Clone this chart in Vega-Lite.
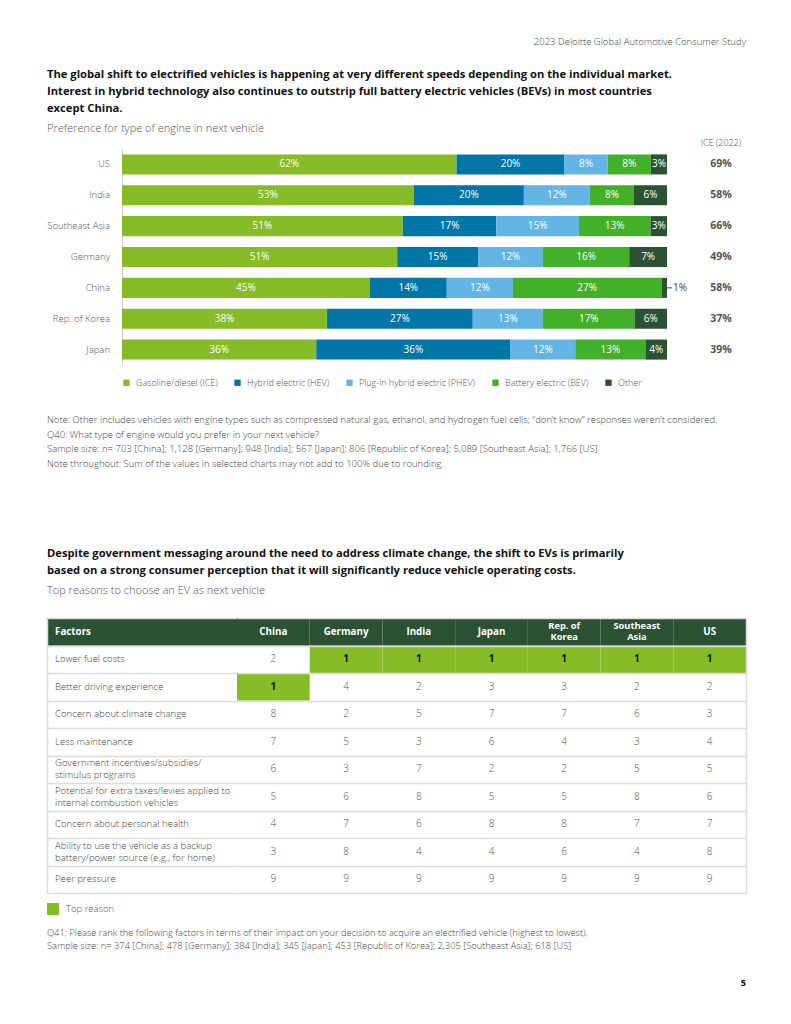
{
  "$schema": "https://vega.github.io/schema/vega-lite/v6.json",
  "padding": {"left": 47, "top": 37, "right": 10, "bottom": 10},
  "background": "white",
  "config": {
    "font": "Open Sans",
    "view": {"stroke": null},
    "title": {"font": "Open Sans", "subtitleFont": "Open Sans"},
    "axis": {"labelFont": "Open Sans"},
    "legend": {"labelFont": "Open Sans"}
  },
  "datasets": {
    "engine": [
      {"country": "US", "type": "Gasoline/diesel (ICE)", "k": 1, "value": 0.62},
      {"country": "US", "type": "Hybrid electric (HEV)", "k": 2, "value": 0.20},
      {"country": "US", "type": "Plug-in hybrid electric (PHEV)", "k": 3, "value": 0.08},
      {"country": "US", "type": "Battery electric (BEV)", "k": 4, "value": 0.08},
      {"country": "US", "type": "Other", "k": 5, "value": 0.03},
      {"country": "India", "type": "Gasoline/diesel (ICE)", "k": 1, "value": 0.53},
      {"country": "India", "type": "Hybrid electric (HEV)", "k": 2, "value": 0.20},
      {"country": "India", "type": "Plug-in hybrid electric (PHEV)", "k": 3, "value": 0.12},
      {"country": "India", "type": "Battery electric (BEV)", "k": 4, "value": 0.08},
      {"country": "India", "type": "Other", "k": 5, "value": 0.06},
      {"country": "Southeast Asia", "type": "Gasoline/diesel (ICE)", "k": 1, "value": 0.51},
      {"country": "Southeast Asia", "type": "Hybrid electric (HEV)", "k": 2, "value": 0.17},
      {"country": "Southeast Asia", "type": "Plug-in hybrid electric (PHEV)", "k": 3, "value": 0.15},
      {"country": "Southeast Asia", "type": "Battery electric (BEV)", "k": 4, "value": 0.13},
      {"country": "Southeast Asia", "type": "Other", "k": 5, "value": 0.03},
      {"country": "Germany", "type": "Gasoline/diesel (ICE)", "k": 1, "value": 0.51},
      {"country": "Germany", "type": "Hybrid electric (HEV)", "k": 2, "value": 0.15},
      {"country": "Germany", "type": "Plug-in hybrid electric (PHEV)", "k": 3, "value": 0.12},
      {"country": "Germany", "type": "Battery electric (BEV)", "k": 4, "value": 0.16},
      {"country": "Germany", "type": "Other", "k": 5, "value": 0.07},
      {"country": "China", "type": "Gasoline/diesel (ICE)", "k": 1, "value": 0.45},
      {"country": "China", "type": "Hybrid electric (HEV)", "k": 2, "value": 0.14},
      {"country": "China", "type": "Plug-in hybrid electric (PHEV)", "k": 3, "value": 0.12},
      {"country": "China", "type": "Battery electric (BEV)", "k": 4, "value": 0.27},
      {"country": "China", "type": "Other", "k": 5, "value": 0.01},
      {"country": "Rep. of Korea", "type": "Gasoline/diesel (ICE)", "k": 1, "value": 0.38},
      {"country": "Rep. of Korea", "type": "Hybrid electric (HEV)", "k": 2, "value": 0.27},
      {"country": "Rep. of Korea", "type": "Plug-in hybrid electric (PHEV)", "k": 3, "value": 0.13},
      {"country": "Rep. of Korea", "type": "Battery electric (BEV)", "k": 4, "value": 0.17},
      {"country": "Rep. of Korea", "type": "Other", "k": 5, "value": 0.06},
      {"country": "Japan", "type": "Gasoline/diesel (ICE)", "k": 1, "value": 0.36},
      {"country": "Japan", "type": "Hybrid electric (HEV)", "k": 2, "value": 0.36},
      {"country": "Japan", "type": "Plug-in hybrid electric (PHEV)", "k": 3, "value": 0.12},
      {"country": "Japan", "type": "Battery electric (BEV)", "k": 4, "value": 0.13},
      {"country": "Japan", "type": "Other", "k": 5, "value": 0.04}
    ],
    "ice": [
      {"country": "US", "ice": 0.69},
      {"country": "India", "ice": 0.58},
      {"country": "Southeast Asia", "ice": 0.66},
      {"country": "Germany", "ice": 0.49},
      {"country": "China", "ice": 0.58},
      {"country": "Rep. of Korea", "ice": 0.37},
      {"country": "Japan", "ice": 0.39}
    ],
    "factors": [
      {"factor": "Factors"},
      {"factor": "Lower fuel costs"},
      {"factor": "Better driving experience"},
      {"factor": "Concern about climate change"},
      {"factor": "Less maintenance"},
      {"factor": "Government incentives/subsidies/|stimulus programs"},
      {"factor": "Potential for extra taxes/levies applied to|internal combustion vehicles"},
      {"factor": "Concern about personal health"},
      {"factor": "Ability to use the vehicle as a backup|battery/power source (e.g., for home)"},
      {"factor": "Peer pressure"}
    ],
    "cols": [
      {"factor": "Factors", "country": "China"},
      {"factor": "Factors", "country": "Germany"},
      {"factor": "Factors", "country": "India"},
      {"factor": "Factors", "country": "Japan"},
      {"factor": "Factors", "country": "Rep. of|Korea"},
      {"factor": "Factors", "country": "Southeast|Asia"},
      {"factor": "Factors", "country": "US"}
    ],
    "ranks": [
      {"factor": "Lower fuel costs", "country": "China", "rank": 2},
      {"factor": "Lower fuel costs", "country": "Germany", "rank": 1},
      {"factor": "Lower fuel costs", "country": "India", "rank": 1},
      {"factor": "Lower fuel costs", "country": "Japan", "rank": 1},
      {"factor": "Lower fuel costs", "country": "Rep. of|Korea", "rank": 1},
      {"factor": "Lower fuel costs", "country": "Southeast|Asia", "rank": 1},
      {"factor": "Lower fuel costs", "country": "US", "rank": 1},
      {"factor": "Better driving experience", "country": "China", "rank": 1},
      {"factor": "Better driving experience", "country": "Germany", "rank": 4},
      {"factor": "Better driving experience", "country": "India", "rank": 2},
      {"factor": "Better driving experience", "country": "Japan", "rank": 3},
      {"factor": "Better driving experience", "country": "Rep. of|Korea", "rank": 3},
      {"factor": "Better driving experience", "country": "Southeast|Asia", "rank": 2},
      {"factor": "Better driving experience", "country": "US", "rank": 2},
      {"factor": "Concern about climate change", "country": "China", "rank": 8},
      {"factor": "Concern about climate change", "country": "Germany", "rank": 2},
      {"factor": "Concern about climate change", "country": "India", "rank": 5},
      {"factor": "Concern about climate change", "country": "Japan", "rank": 7},
      {"factor": "Concern about climate change", "country": "Rep. of|Korea", "rank": 7},
      {"factor": "Concern about climate change", "country": "Southeast|Asia", "rank": 6},
      {"factor": "Concern about climate change", "country": "US", "rank": 3},
      {"factor": "Less maintenance", "country": "China", "rank": 7},
      {"factor": "Less maintenance", "country": "Germany", "rank": 5},
      {"factor": "Less maintenance", "country": "India", "rank": 3},
      {"factor": "Less maintenance", "country": "Japan", "rank": 6},
      {"factor": "Less maintenance", "country": "Rep. of|Korea", "rank": 4},
      {"factor": "Less maintenance", "country": "Southeast|Asia", "rank": 3},
      {"factor": "Less maintenance", "country": "US", "rank": 4},
      {"factor": "Government incentives/subsidies/|stimulus programs", "country": "China", "rank": 6},
      {"factor": "Government incentives/subsidies/|stimulus programs", "country": "Germany", "rank": 3},
      {"factor": "Government incentives/subsidies/|stimulus programs", "country": "India", "rank": 7},
      {"factor": "Government incentives/subsidies/|stimulus programs", "country": "Japan", "rank": 2},
      {"factor": "Government incentives/subsidies/|stimulus programs", "country": "Rep. of|Korea", "rank": 2},
      {"factor": "Government incentives/subsidies/|stimulus programs", "country": "Southeast|Asia", "rank": 5},
      {"factor": "Government incentives/subsidies/|stimulus programs", "country": "US", "rank": 5},
      {"factor": "Potential for extra taxes/levies applied to|internal combustion vehicles", "country": "China", "rank": 5},
      {"factor": "Potential for extra taxes/levies applied to|internal combustion vehicles", "country": "Germany", "rank": 6},
      {"factor": "Potential for extra taxes/levies applied to|internal combustion vehicles", "country": "India", "rank": 8},
      {"factor": "Potential for extra taxes/levies applied to|internal combustion vehicles", "country": "Japan", "rank": 5},
      {"factor": "Potential for extra taxes/levies applied to|internal combustion vehicles", "country": "Rep. of|Korea", "rank": 5},
      {"factor": "Potential for extra taxes/levies applied to|internal combustion vehicles", "country": "Southeast|Asia", "rank": 8},
      {"factor": "Potential for extra taxes/levies applied to|internal combustion vehicles", "country": "US", "rank": 6},
      {"factor": "Concern about personal health", "country": "China", "rank": 4},
      {"factor": "Concern about personal health", "country": "Germany", "rank": 7},
      {"factor": "Concern about personal health", "country": "India", "rank": 6},
      {"factor": "Concern about personal health", "country": "Japan", "rank": 8},
      {"factor": "Concern about personal health", "country": "Rep. of|Korea", "rank": 8},
      {"factor": "Concern about personal health", "country": "Southeast|Asia", "rank": 7},
      {"factor": "Concern about personal health", "country": "US", "rank": 7},
      {"factor": "Ability to use the vehicle as a backup|battery/power source (e.g., for home)", "country": "China", "rank": 3},
      {"factor": "Ability to use the vehicle as a backup|battery/power source (e.g., for home)", "country": "Germany", "rank": 8},
      {"factor": "Ability to use the vehicle as a backup|battery/power source (e.g., for home)", "country": "India", "rank": 4},
      {"factor": "Ability to use the vehicle as a backup|battery/power source (e.g., for home)", "country": "Japan", "rank": 4},
      {"factor": "Ability to use the vehicle as a backup|battery/power source (e.g., for home)", "country": "Rep. of|Korea", "rank": 6},
      {"factor": "Ability to use the vehicle as a backup|battery/power source (e.g., for home)", "country": "Southeast|Asia", "rank": 4},
      {"factor": "Ability to use the vehicle as a backup|battery/power source (e.g., for home)", "country": "US", "rank": 8},
      {"factor": "Peer pressure", "country": "China", "rank": 9},
      {"factor": "Peer pressure", "country": "Germany", "rank": 9},
      {"factor": "Peer pressure", "country": "India", "rank": 9},
      {"factor": "Peer pressure", "country": "Japan", "rank": 9},
      {"factor": "Peer pressure", "country": "Rep. of|Korea", "rank": 9},
      {"factor": "Peer pressure", "country": "Southeast|Asia", "rank": 9},
      {"factor": "Peer pressure", "country": "US", "rank": 9}
    ]
  },
  "title": {"text": "5", "orient": "bottom", "anchor": "end", "frame": "bounds", "fontSize": 9, "fontWeight": "bold", "color": "#000", "offset": 28},
  "resolve": {"scale": {"color": "independent", "fill": "independent"}, "legend": {"color": "independent", "fill": "independent"}},
  "vconcat": [
    {
      "title": {"text": "2023 Deloitte Global Automotive Consumer Study", "anchor": "end", "frame": "bounds", "fontSize": 9.5, "fontWeight": 300, "color": "#444", "offset": 22},
      "spacing": 78,
      "resolve": {"scale": {"color": "independent", "fill": "independent"}, "legend": {"color": "independent", "fill": "independent"}},
      "vconcat": [
        {
          "title": {
            "text": ["The global shift to electrified vehicles is happening at very different speeds depending on the individual market.", "Interest in hybrid technology also continues to outstrip full battery electric vehicles (BEVs) in most countries", "except China."],
            "subtitle": "Preference for type of engine in next vehicle",
            "anchor": "start", "frame": "bounds", "fontSize": 11.2, "fontWeight": "bold", "color": "#111", "lineHeight": 17,
            "subtitleFontSize": 11, "subtitleColor": "#555", "subtitleFontWeight": 300, "subtitlePadding": 9, "offset": 5
          },
          "resolve": {"scale": {"color": "independent"}, "legend": {"color": "independent"}},
          "vconcat": [
            {
              "title": {
                "text": ["Note: Other includes vehicles with engine types such as compressed natural gas, ethanol, and hydrogen fuel cells; \u201cdon\u2019t know\u201d responses weren\u2019t considered.", "Q40: What type of engine would you prefer in your next vehicle?", "Sample size: n= 703 [China]; 1,128 [Germany]; 948 [India]; 567 [Japan]; 806 [Republic of Korea]; 5,089 [Southeast Asia]; 1,766 [US]", "Note throughout: Sum of the values in selected charts may not add to 100% due to rounding."],
                "orient": "bottom", "anchor": "start", "frame": "bounds", "fontSize": 9.5, "fontWeight": 300, "color": "#444", "lineHeight": 14.7, "offset": 27
              },
              "spacing": 12,
              "bounds": "flush",
              "resolve": {"scale": {"color": "independent"}, "legend": {"color": "independent"}},
              "hconcat": [
                {
                  "width": 63,
                  "height": 216,
                  "data": {"name": "ice"},
                  "mark": {"type": "text", "align": "right", "dx": 31.5, "fontSize": 9.5, "fontWeight": 300, "color": "#555"},
                  "encoding": {
                    "y": {"field": "country", "type": "nominal", "sort": ["US", "India", "Southeast Asia", "Germany", "China", "Rep. of Korea", "Japan"], "axis": null, "scale": {"paddingInner": 0.35, "paddingOuter": 0.175}},
                    "text": {"field": "country"}
                  }
                },
                {
                  "spacing": 35,
                  "bounds": "flush",
                  "resolve": {"scale": {"color": "independent"}, "legend": {"color": "independent"}},
                  "hconcat": [
                    {
                      "width": 545,
                      "height": 216,
                      "data": {"name": "engine"},
                      "encoding": {
                        "y": {
                          "field": "country", "type": "nominal",
                          "sort": ["US", "India", "Southeast Asia", "Germany", "China", "Rep. of Korea", "Japan"],
                          "scale": {"paddingInner": 0.35, "paddingOuter": 0.175},
                          "axis": {"title": null, "ticks": false, "labels": false, "domain": true, "domainColor": "#d0d0d0"}
                        }
                      },
                      "layer": [
                        {
                          "mark": {"type": "bar"},
                          "encoding": {
                            "x": {"field": "value", "type": "quantitative", "stack": "normalize", "axis": null},
                            "color": {
                              "field": "type", "type": "nominal",
                              "scale": {"domain": ["Gasoline/diesel (ICE)", "Hybrid electric (HEV)", "Plug-in hybrid electric (PHEV)", "Battery electric (BEV)", "Other"], "range": ["#86BC25", "#0076A8", "#62B5E5", "#43B02A", "#2C5234"]},
                              "legend": {"orient": "bottom", "direction": "horizontal", "title": null, "symbolType": "square", "symbolSize": 40, "symbolStrokeWidth": 0, "labelFontSize": 9, "labelColor": "#555", "labelFontWeight": 300, "columnPadding": 15, "labelOffset": 5, "offset": 13}
                            },
                            "order": {"field": "k", "type": "quantitative"}
                          }
                        },
                        {
                          "mark": {"type": "text", "color": "white", "fontSize": 10},
                          "encoding": {
                            "x": {"field": "value", "type": "quantitative", "stack": "normalize", "bandPosition": 0.5, "axis": null},
                            "detail": {"field": "type"},
                            "order": {"field": "k", "type": "quantitative"},
                            "text": {"condition": {"test": "datum.value < 0.02", "value": ""}, "field": "value", "type": "quantitative", "format": ".0%"}
                          }
                        },
                        {
                          "transform": [
                            {"stack": "value", "groupby": ["country"], "sort": [{"field": "k", "order": "ascending"}], "offset": "normalize", "as": ["s0", "s1"]},
                            {"filter": "datum.value < 0.02"}
                          ],
                          "mark": {"type": "rule", "color": "#444", "x2Offset": 5},
                          "encoding": {
                            "x": {"field": "s1", "type": "quantitative", "axis": null},
                            "x2": {"field": "s1"}
                          }
                        },
                        {
                          "transform": [
                            {"stack": "value", "groupby": ["country"], "sort": [{"field": "k", "order": "ascending"}], "offset": "normalize", "as": ["s0", "s1"]},
                            {"filter": "datum.value < 0.02"}
                          ],
                          "mark": {"type": "text", "align": "left", "dx": 6, "color": "#444", "fontSize": 10},
                          "encoding": {
                            "x": {"field": "s1", "type": "quantitative", "axis": null},
                            "text": {"field": "value", "type": "quantitative", "format": ".0%"}
                          }
                        }
                      ]
                    },
                    {
                      "width": 38,
                      "height": 216,
                      "data": {"name": "ice"},
                      "title": {"text": "ICE (2022)", "anchor": "middle", "frame": "group", "fontSize": 9, "fontWeight": 300, "color": "#555", "offset": 1},
                      "mark": {"type": "text", "fontWeight": "bold", "fontSize": 10.5, "color": "#555"},
                      "encoding": {
                        "y": {"field": "country", "type": "nominal", "sort": ["US", "India", "Southeast Asia", "Germany", "China", "Rep. of Korea", "Japan"], "axis": null, "scale": {"paddingInner": 0.35, "paddingOuter": 0.175}},
                        "text": {"field": "ice", "type": "quantitative", "format": ".0%"}
                      }
                    }
                  ]
                }
              ]
            }
          ]
        },
        {
          "title": {
            "text": ["Despite government messaging around the need to address climate change, the shift to EVs is primarily", "based on a strong consumer perception that it will significantly reduce vehicle operating costs."],
            "subtitle": "Top reasons to choose an EV as next vehicle",
            "anchor": "start", "frame": "bounds", "fontSize": 11.2, "fontWeight": "bold", "color": "#111", "lineHeight": 17,
            "subtitleFontSize": 11, "subtitleColor": "#555", "subtitleFontWeight": 300, "subtitlePadding": 9, "offset": 22
          },
          "resolve": {"scale": {"fill": "independent"}, "legend": {"fill": "independent"}},
          "vconcat": [
            {
              "title": {
                "text": ["Q41: Please rank the following factors in terms of their impact on your decision to acquire an electrified vehicle (highest to lowest).", "Sample size: n= 374 [China]; 478 [Germany]; 384 [India]; 345 [Japan]; 453 [Republic of Korea]; 2,305 [Southeast Asia]; 618 [US]"],
                "orient": "bottom", "anchor": "start", "frame": "bounds", "fontSize": 9.3, "fontWeight": 300, "color": "#444", "lineHeight": 13, "offset": 14
              },
              "spacing": 0,
              "bounds": "flush",
              "hconcat": [
                {
                  "width": 190,
                  "height": 275,
                  "data": {"name": "factors"},
                  "encoding": {
                    "y": {
                      "field": "factor", "type": "nominal",
                      "sort": ["Factors", "Lower fuel costs", "Better driving experience", "Concern about climate change", "Less maintenance", "Government incentives/subsidies/|stimulus programs", "Potential for extra taxes/levies applied to|internal combustion vehicles", "Concern about personal health", "Ability to use the vehicle as a backup|battery/power source (e.g., for home)", "Peer pressure"],
                      "scale": {"paddingInner": 0, "paddingOuter": 0},
                      "axis": {"orient": "left", "title": null, "labels": false, "ticks": false, "domain": true, "domainColor": "#dcdcdc", "domainWidth": 1.5, "grid": true, "gridColor": "#dcdcdc", "gridWidth": 1.5, "tickBand": "extent"}
                    }
                  },
                  "layer": [
                    {
                      "transform": [{"filter": "datum.factor == 'Factors'"}],
                      "mark": {"type": "rect", "color": "#2C5234"}
                    },
                    {
                      "transform": [{"filter": "datum.factor == 'Factors'"}],
                      "mark": {"type": "text", "align": "left", "dx": -87, "color": "white", "fontWeight": "bold", "fontSize": 9.8},
                      "encoding": {"text": {"field": "factor"}}
                    },
                    {
                      "transform": [{"filter": "datum.factor != 'Factors' && indexof(datum.factor, '|') < 0"}],
                      "mark": {"type": "text", "align": "left", "dx": -87, "color": "#444", "fontSize": 9.6, "fontWeight": 300},
                      "encoding": {"text": {"field": "factor"}}
                    },
                    {
                      "transform": [{"filter": "indexof(datum.factor, '|') >= 0"}],
                      "mark": {"type": "text", "align": "left", "dx": -87, "dy": -6, "color": "#444", "fontSize": 9.6, "fontWeight": 300, "lineBreak": "|", "lineHeight": 12},
                      "encoding": {"text": {"field": "factor"}}
                    }
                  ]
                },
                {
                  "width": 509,
                  "height": 275,
                  "encoding": {
                    "y": {
                      "field": "factor", "type": "nominal",
                      "sort": ["Factors", "Lower fuel costs", "Better driving experience", "Concern about climate change", "Less maintenance", "Government incentives/subsidies/|stimulus programs", "Potential for extra taxes/levies applied to|internal combustion vehicles", "Concern about personal health", "Ability to use the vehicle as a backup|battery/power source (e.g., for home)", "Peer pressure"],
                      "scale": {"paddingInner": 0, "paddingOuter": 0},
                      "axis": {"orient": "right", "title": null, "labels": false, "ticks": false, "domain": true, "domainColor": "#dcdcdc", "domainWidth": 1.5, "grid": true, "gridColor": "#dcdcdc", "gridWidth": 1.5, "tickBand": "extent", "zindex": 1}
                    },
                    "x": {
                      "field": "country", "type": "nominal",
                      "sort": ["China", "Germany", "India", "Japan", "Rep. of|Korea", "Southeast|Asia", "US"],
                      "scale": {"paddingInner": 0, "paddingOuter": 0},
                      "axis": null
                    }
                  },
                  "layer": [
                    {
                      "data": {"name": "cols"},
                      "mark": {"type": "rect", "color": "#2C5234"}
                    },
                    {
                      "data": {"name": "cols"},
                      "transform": [{"filter": "indexof(datum.country, '|') < 0"}],
                      "mark": {"type": "text", "color": "white", "fontWeight": "bold", "fontSize": 9.8},
                      "encoding": {"text": {"field": "country"}}
                    },
                    {
                      "data": {"name": "cols"},
                      "transform": [{"filter": "indexof(datum.country, '|') >= 0"}],
                      "mark": {"type": "text", "color": "white", "fontWeight": "bold", "fontSize": 9.3, "lineBreak": "|", "lineHeight": 11, "dy": -5.5},
                      "encoding": {"text": {"field": "country"}}
                    },
                    {
                      "data": {"name": "ranks"},
                      "transform": [{"filter": "datum.rank == 1"}],
                      "mark": {"type": "rect"},
                      "encoding": {
                        "fill": {
                          "datum": "Top reason", "type": "nominal",
                          "scale": {"domain": ["Top reason"], "range": ["#86BC25"]},
                          "legend": {"orient": "bottom", "title": null, "symbolType": "square", "symbolSize": 144, "symbolStrokeWidth": 0, "labelFontSize": 9.5, "labelColor": "#555", "labelFontWeight": 300, "labelOffset": 7, "offset": 10}
                        }
                      }
                    },
                    {
                      "data": {"name": "ranks"},
                      "transform": [{"filter": "datum.rank == 1"}],
                      "mark": {"type": "text", "fontWeight": "bold", "color": "#111", "fontSize": 10},
                      "encoding": {"text": {"field": "rank", "type": "quantitative"}}
                    },
                    {
                      "data": {"name": "ranks"},
                      "transform": [{"filter": "datum.rank != 1"}],
                      "mark": {"type": "text", "fontWeight": 300, "color": "#555", "fontSize": 10},
                      "encoding": {"text": {"field": "rank", "type": "quantitative"}}
                    }
                  ]
                }
              ]
            }
          ]
        }
      ]
    }
  ]
}
